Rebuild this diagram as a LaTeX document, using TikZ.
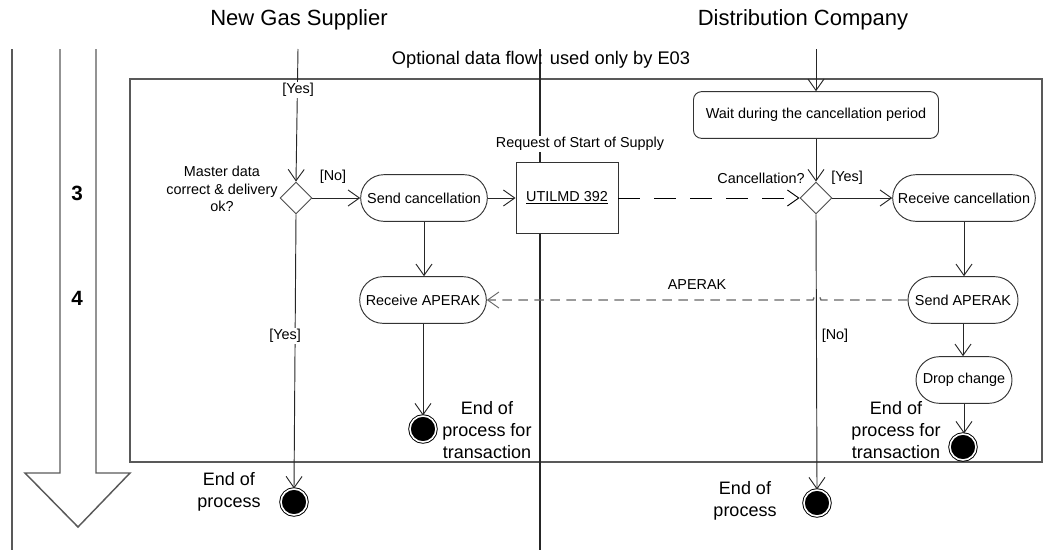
\documentclass[tikz,border=0pt]{standalone}
\usepackage{fontspec}
\setmainfont{Liberation Sans}
\usetikzlibrary{arrows.meta,shapes.geometric,shapes.misc}
\begin{document}
\begin{tikzpicture}[x=0.75pt,y=-0.75pt,
  every node/.style={font=\fontsize{10.8}{13}\selectfont},
  act/.style={rounded rectangle, draw=black!80, line width=0.7pt, fill=white, minimum height=35pt, inner xsep=3pt},
  conn/.style={draw=black!85, line width=0.7pt, -{Straight Barb[length=8.5pt,width=12pt,line width=0.7pt]}},
  dec/.style={diamond, draw=black!70, line width=0.7pt, fill=white, minimum width=24pt, minimum height=24pt, inner sep=0pt, aspect=1},
  endc/.style={circle, fill=black, draw=black, double=white, double distance=1.2pt, line width=0.7pt, minimum size=19.5pt, inner sep=0pt},
  big/.style={font=\fontsize{13.5}{16.5}\selectfont, align=center, inner sep=1pt},
  lab/.style={inner sep=1pt},
  frameline/.style={draw=black!65, line width=1.1pt},
  numlab/.style={font=\bfseries\fontsize{15.5}{18}\selectfont}
]
\useasboundingbox (0,0) rectangle (1056,550);

% phase arrow and lane lines
\draw[frameline] (12,49) -- (12,550);
\draw[frameline] (60,49) -- (60,473) -- (25,473) -- (78,527) -- (130,473) -- (96,473) -- (96,49);
\node[numlab] (n3) at (77,193) {3};
\node[numlab] (n4) at (77,298) {4};

% optional frame and divider
\draw[frameline] (130,79) rectangle (1042,462);
\draw[line width=0.8pt, black!85] (540,49) -- (540,550);

% headings
\node[font=\fontsize{16.5}{20}\selectfont] (h1) at (299,20) {New Gas Supplier};
\node[font=\fontsize{16.5}{20}\selectfont] (h2) at (803,20) {Distribution Company};
\node[font=\fontsize{13.7}{16}\selectfont] (opt) at (541,60) {Optional data flow: used only by E03};

% nodes
\coordinate (t1) at (298,49);
\coordinate (t2) at (816,49);
\node[dec] (d1) at (296,198) {};
\node[act, minimum width=101pt] (sc) at (424,198) {Send cancellation};
\node[draw=black!80, fill=white, line width=0.7pt, minimum width=76.5pt, minimum height=53pt] (ut) at (567,198) {\underline{UTILMD 392}};
\node[fill=white, inner sep=1pt] (req) at (580,144) {Request of Start of Supply};
\node[draw=black!80, line width=0.7pt, fill=white, rounded corners=6pt, minimum width=183.75pt, minimum height=35pt] (wait) at (816,115) {Wait during the cancellation period};
\node[dec] (d2) at (816,198) {};
\node[act, minimum width=113pt] (rc) at (964,198) {Receive cancellation};
\node[act, minimum width=88.5pt] (sa) at (963,300) {Send APERAK};
\node[act, minimum width=101pt] (ra) at (423,300) {Receive APERAK};
\node[act, minimum width=78pt] (dc) at (964,380) {Drop change};
\node[endc] (e1) at (423,429) {};
\node[endc] (e2) at (294,502) {};
\node[endc] (e3) at (817,503) {};
\node[endc] (e4) at (963,447) {};

% supplier side
\draw[conn] (t1) -- (d1.north);
\node[lab, fill=white] (y1) at (298,90) {[Yes]};
\node[lab, align=center] (q1) at (222,189) {Master data\\correct \& delivery\\ok?};
\draw[conn] (d1.east) -- (sc.west);
\node[lab] (no1) at (333,177) {[No]};
\draw[conn] (sc.east) -- (ut.west);
\draw[conn] (sc.south) -- (sc.south |- ra.north);
\draw[conn] (ra.south) -- (e1.north);
\draw[conn] (d1.south) -- (e2.north);
\node[lab, fill=white] (y2) at (285,336) {[Yes]};
\node[big] (ep1) at (229,492) {End of\\process};
\node[big] (ept1) at (487,430) {End of\\process for\\transaction};

% distribution side
\draw[conn] (t2) -- (wait.north);
\draw[conn] (wait.south) -- (d2.north);
\node[lab] (q2) at (761,178) {Cancellation?};
\node[lab] (y3) at (847,178) {[Yes]};
\draw[conn] (d2.east) -- (rc.west);
\draw[conn, draw=black, dash pattern=on 16pt off 11pt] (ut.east) -- (d2.west);
\draw[conn] (rc.south) -- (rc.south |- sa.north);
\draw[conn] (sa.south) -- (sa.south |- dc.north);
\draw[conn] (dc.south) -- (dc.south |- e4.north);
\draw[conn] (d2.south) -- (e3.north);
\node[lab] (no2) at (835,336) {[No]};
\node[big] (ep2) at (745,501) {End of\\process};
\node[big] (ept2) at (896,430) {End of\\process for\\transaction};

% APERAK return flow
\draw[conn, draw=black!60, line width=1pt, dash pattern=on 7pt off 5pt] (sa.west) -- (821,300) arc[start angle=0, end angle=-180, radius=4] -- (ra.east);
\node[lab] (ap) at (697,285) {APERAK};
\end{tikzpicture}
\end{document}
